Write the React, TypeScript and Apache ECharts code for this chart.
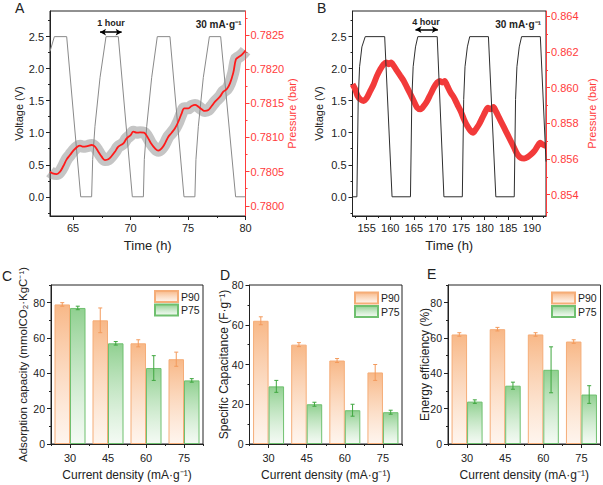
import React, { useEffect, useRef } from 'react';
import * as echarts from 'echarts';

const FONT = '"Liberation Sans", Arial, Helvetica, sans-serif';
const RED = '#ff3b3b';
const INK = '#222';

// ---------- Panel A (30 mA/g, 63–80 h) ----------
const aVoltTime = [63.0, 63.38, 64.45, 65.67, 66.62, 66.71, 66.91, 67.35, 67.87, 68.94, 70.16, 71.12, 71.2, 71.41, 71.84, 72.33, 73.43, 74.65, 75.6, 75.69, 75.9, 76.33, 76.86, 77.84, 79.14, 80.0];
const aVoltV = [2.27, 2.5, 2.5, 0, 0, 0.58, 1.1, 1.86, 2.5, 2.5, 0, 0, 0.58, 1.1, 1.86, 2.5, 2.5, 0, 0, 0.58, 1.1, 1.86, 2.5, 2.5, 0, 0];
const aPresTime = [63.0, 63.23, 63.58, 63.87, 64.16, 64.45, 64.74, 65.03, 65.38, 65.61, 65.9, 66.25, 66.62, 66.91, 67.2, 67.49, 67.78, 68.07, 68.36, 68.65, 68.94, 69.38, 69.67, 70.01, 70.25, 70.54, 70.83, 71.17, 71.46, 71.75, 72.13, 72.42, 72.71, 73.0, 73.29, 73.58, 73.87, 74.16, 74.45, 74.68, 75.03, 75.32, 75.61, 75.9, 76.19, 76.48, 76.77, 77.06, 77.35, 77.78, 78.07, 78.36, 78.65, 78.94, 79.17, 79.38, 79.67, 80.0];
const aPresP = [0.780498, 0.780474, 0.780464, 0.780498, 0.780581, 0.780679, 0.780742, 0.780806, 0.780864, 0.780879, 0.780864, 0.780874, 0.780889, 0.780864, 0.780791, 0.780718, 0.780669, 0.780679, 0.780728, 0.780791, 0.780864, 0.780913, 0.780986, 0.781035, 0.781084, 0.781069, 0.781074, 0.781069, 0.781011, 0.780923, 0.78084, 0.780806, 0.78084, 0.780913, 0.781011, 0.781069, 0.781133, 0.78123, 0.781353, 0.781426, 0.781426, 0.78146, 0.781475, 0.78145, 0.781411, 0.781387, 0.781401, 0.78146, 0.781523, 0.781597, 0.78167, 0.781704, 0.781792, 0.781948, 0.782143, 0.782173, 0.782207, 0.782271];
const aTimeTicks = [65, 70, 75, 80];
const aTimeMinor = [67.5, 72.5, 77.5];
const aPresTicks = [0.78, 0.7805, 0.781, 0.7815, 0.782, 0.7825];
const aPresMinor = [0.78025, 0.78075, 0.78125, 0.78175, 0.78225, 0.78275];
const aArrowTime = [67.35, 69.23];
const aArrowV = 2.57;

// ---------- Panel B (30 mA/g, 152–193 h) ----------
const bVoltTime = [152.0, 152.93, 153.21, 153.5, 153.99, 154.7, 158.82, 160.38, 164.28, 164.57, 164.85, 165.35, 165.84, 169.95, 171.37, 175.27, 175.56, 175.84, 176.34, 176.84, 180.8, 182.37, 186.27, 186.55, 186.84, 187.33, 187.83, 191.8, 193.0];
const bVoltV = [0, 0, 1.52, 2.03, 2.34, 2.5, 2.5, 0, 0, 1.52, 2.03, 2.34, 2.5, 2.5, 0, 0, 1.52, 2.03, 2.34, 2.5, 2.5, 0, 0, 1.52, 2.03, 2.34, 2.5, 2.5, 0.55];
const bPresTime = [152.01, 152.57, 153.07, 153.64, 154.35, 155.06, 155.77, 156.48, 157.18, 157.89, 158.6, 159.17, 159.67, 160.16, 160.73, 161.44, 162.15, 162.86, 163.57, 164.28, 164.99, 165.69, 166.4, 167.11, 167.82, 168.53, 169.24, 169.95, 170.52, 171.01, 171.51, 172.08, 172.79, 173.5, 174.2, 174.91, 175.62, 176.33, 177.04, 177.53, 178.1, 178.81, 179.52, 180.22, 180.72, 181.29, 181.86, 182.35, 183.06, 183.77, 184.48, 185.19, 186.25, 186.96, 187.67, 188.38, 189.09, 189.8, 190.51, 191.22, 191.78, 192.28, 192.99];
const bPresP = [0.860191, 0.85991, 0.859535, 0.859347, 0.859253, 0.859441, 0.859816, 0.860191, 0.86066, 0.861036, 0.861317, 0.861411, 0.861317, 0.861411, 0.861223, 0.860942, 0.86066, 0.860379, 0.860004, 0.859629, 0.859253, 0.858878, 0.858784, 0.858972, 0.859253, 0.859629, 0.860004, 0.860285, 0.860379, 0.860285, 0.860379, 0.860098, 0.859722, 0.859441, 0.859066, 0.85869, 0.858221, 0.857846, 0.857565, 0.857471, 0.857659, 0.85794, 0.858315, 0.85869, 0.858878, 0.858784, 0.858916, 0.85869, 0.858315, 0.85794, 0.857565, 0.857189, 0.856627, 0.856251, 0.856064, 0.856026, 0.856101, 0.856251, 0.856439, 0.85672, 0.856908, 0.856814, 0.85672];
const bTimeTicks = [155, 160, 165, 170, 175, 180, 185, 190];
const bTimeMinor = [152.5, 157.5, 162.5, 167.5, 172.5, 177.5, 182.5, 187.5, 192.5];
const bPresTicks = [0.854, 0.856, 0.858, 0.86, 0.862, 0.864];
const bPresMinor = [0.853, 0.855, 0.857, 0.859, 0.861, 0.863];
const bArrowTime = [165.34, 170.09];
const bArrowV = 2.61;

const voltTicks = [0, 0.5, 1, 1.5, 2, 2.5];
const voltMinor = [-0.25, 0.25, 0.75, 1.25, 1.75, 2.25, 2.75];

// ---------- Panels C, D, E ----------
const densities = ['30', '45', '60', '75'];
const adsP90 = [79, 70, 57, 48];
const adsP90Err = [1, 7, 2, 4];
const adsP75 = [77, 57, 43, 36];
const adsP75Err = [1, 1, 7, 1];
const capP90 = [62, 50, 42, 36];
const capP90Err = [2, 1, 1, 4];
const capP75 = [29, 20, 17, 16];
const capP75Err = [3, 1, 3, 1];
const effP90 = [62, 65, 62, 58];
const effP90Err = [1, 1, 1, 1];
const effP75 = [24, 33, 42, 28];
const effP75Err = [1, 2, 13, 5];
const barTicks = [0, 20, 40, 60, 80];
const barMinor90 = [10, 30, 50, 70, 90];
const barMinor80 = [10, 30, 50, 70];

const zip = (xs: number[], ys: number[]) => xs.map((x, i) => [x, ys[i]]);

const BAR_W = 15.5;

function valAxis(o: any) {
  const color = o.color || INK;
  return {
    type: 'value',
    gridIndex: o.grid,
    min: o.min,
    max: o.max,
    position: o.position,
    axisLine: { show: true, onZero: false, lineStyle: { color, width: 1 } },
    axisTick: { show: true, inside: false, length: 4, customValues: o.ticks, lineStyle: { color, width: 1 } },
    axisLabel: {
      show: true,
      customValues: o.ticks,
      formatter: o.fmt,
      color,
      fontSize: o.labelSize || 11,
      fontFamily: FONT,
      margin: o.margin ?? 6,
    },
    splitLine: { show: false },
    name: o.name,
    nameLocation: 'middle',
    nameGap: o.nameGap,
    nameMoveOverlap: false,
    nameTextStyle: { color, fontSize: o.nameSize || 11, fontFamily: FONT },
  };
}

function minorAxis(grid: number, min: number, max: number, position: string, values: number[], color = INK) {
  return {
    type: 'value',
    gridIndex: grid,
    min,
    max,
    position,
    axisLine: { show: false, onZero: false },
    axisLabel: { show: false },
    splitLine: { show: false },
    axisTick: { show: true, inside: false, length: 2, customValues: values, lineStyle: { color, width: 1 } },
  };
}

function catAxis(grid: number) {
  return {
    type: 'category',
    gridIndex: grid,
    data: densities,
    position: 'bottom',
    axisLine: { show: true, onZero: false, lineStyle: { color: INK, width: 1 } },
    axisTick: { show: true, alignWithLabel: true, length: 4, lineStyle: { color: INK } },
    axisLabel: { color: INK, fontSize: 11, fontFamily: FONT, margin: 8 },
    splitLine: { show: false },
  };
}

function catMinor(grid: number) {
  return {
    type: 'category',
    gridIndex: grid,
    data: densities,
    position: 'bottom',
    axisLine: { show: false, onZero: false },
    axisLabel: { show: false },
    splitLine: { show: false },
    axisTick: { show: true, alignWithLabel: false, length: 2, lineStyle: { color: INK } },
  };
}

const orangeFill = () =>
  new echarts.graphic.LinearGradient(0, 0, 0, 1, [
    { offset: 0, color: 'rgba(247,176,122,0.9)' },
    { offset: 1, color: 'rgba(254,238,226,0.6)' },
  ]);
const greenFill = () =>
  new echarts.graphic.LinearGradient(0, 0, 0, 1, [
    { offset: 0, color: 'rgba(132,203,132,0.9)' },
    { offset: 1, color: 'rgba(236,247,236,0.6)' },
  ]);

function bars(name: string, data: number[], xi: number, yi: number) {
  const isP90 = name === 'P90';
  return {
    type: 'bar',
    name,
    xAxisIndex: xi,
    yAxisIndex: yi,
    data,
    barWidth: BAR_W,
    barGap: '0%',
    itemStyle: {
      color: isP90 ? orangeFill() : greenFill(),
      borderColor: isP90 ? '#f5ad78' : '#6fc06f',
      borderWidth: 1,
    },
    emphasis: { disabled: true },
    silent: true,
    z: 2,
  };
}

function errBars(id: string, vals: number[], errs: number[], xi: number, yi: number, side: number, color: string) {
  return {
    type: 'custom',
    name: id,
    xAxisIndex: xi,
    yAxisIndex: yi,
    data: vals.map((v, i) => [i, v - errs[i], v + errs[i]]),
    encode: { x: 0, y: [1, 2] },
    silent: true,
    z: 5,
    renderItem: (_p: any, api: any) => {
      const i = api.value(0);
      const lo = api.coord([i, api.value(1)]);
      const hi = api.coord([i, api.value(2)]);
      const x = lo[0] + side * (BAR_W / 2);
      const st = { stroke: color, lineWidth: 1 };
      return {
        type: 'group',
        children: [
          { type: 'line', shape: { x1: x, y1: lo[1], x2: x, y2: hi[1] }, style: st },
          { type: 'line', shape: { x1: x - 2, y1: lo[1], x2: x + 2, y2: lo[1] }, style: st },
          { type: 'line', shape: { x1: x - 2, y1: hi[1], x2: x + 2, y2: hi[1] }, style: st },
        ],
      };
    },
  };
}

function arrowLine(ts: number[], v: number) {
  return {
    silent: true,
    symbol: ['arrow', 'arrow'],
    symbolSize: [5, 6],
    label: { show: false },
    emphasis: { disabled: true },
    lineStyle: { color: '#000', width: 1.5, type: 'solid' },
    data: [[{ coord: [ts[0], v] }, { coord: [ts[1], v] }]],
  };
}

function legendAt(left: number, top: number) {
  return {
    data: ['P90', 'P75'],
    left,
    top,
    orient: 'vertical',
    icon: 'rect',
    itemWidth: 23,
    itemHeight: 11,
    itemGap: 0.5,
    padding: 0,
    selectedMode: false,
    textStyle: { color: INK, fontSize: 10.5, fontFamily: FONT, lineHeight: 11.5, padding: [0, 0, 0, -2] },
  };
}

function txt(text: string, x: number, y: number, o: any = {}) {
  return {
    type: 'text',
    x,
    y,
    rotation: o.rotation || 0,
    silent: true,
    style: {
      text,
      fill: o.fill || INK,
      fontSize: o.size || 13,
      fontWeight: o.weight || 'normal',
      fontFamily: FONT,
      align: o.align || 'left',
      verticalAlign: o.va || 'middle',
    },
  };
}

const fmt1 = (v: number) => v.toFixed(1);
const UP = Math.PI / 2;

const option: any = {
  animation: false,
  backgroundColor: '#fff',
  textStyle: { fontFamily: FONT },
  grid: [
    { left: 50, top: 11, width: 195.5, height: 205, show: true, borderColor: INK, borderWidth: 1, backgroundColor: 'transparent', outerBoundsMode: 'none' },
    { left: 352.5, top: 11, width: 193.5, height: 205, show: true, borderColor: INK, borderWidth: 1, backgroundColor: 'transparent', outerBoundsMode: 'none' },
    { left: 51, top: 285, width: 152, height: 159, show: true, borderColor: INK, borderWidth: 1, backgroundColor: 'transparent', outerBoundsMode: 'none' },
    { left: 249.5, top: 285, width: 152.5, height: 159, show: true, borderColor: INK, borderWidth: 1, backgroundColor: 'transparent', outerBoundsMode: 'none' },
    { left: 448, top: 285, width: 152.5, height: 159, show: true, borderColor: INK, borderWidth: 1, backgroundColor: 'transparent', outerBoundsMode: 'none' },
  ],
  xAxis: [
    // 0,1 : A
    valAxis({ grid: 0, min: 63, max: 80, position: 'bottom', ticks: aTimeTicks, fmt: (v: number) => String(v), margin: 6, name: 'Time (h)', nameGap: 23, nameSize: 13 }),
    minorAxis(0, 63, 80, 'bottom', aTimeMinor),
    // 2,3 : B
    valAxis({ grid: 1, min: 152, max: 193, position: 'bottom', ticks: bTimeTicks, fmt: (v: number) => String(v), margin: 6, name: 'Time (h)', nameGap: 23, nameSize: 13 }),
    minorAxis(1, 152, 193, 'bottom', bTimeMinor),
    // 4,5 : C
    catAxis(2),
    catMinor(2),
    // 6,7 : D
    catAxis(3),
    catMinor(3),
    // 8,9 : E
    catAxis(4),
    catMinor(4),
  ],
  yAxis: [
    // 0..3 : A
    valAxis({ grid: 0, min: -0.3, max: 2.9, position: 'left', ticks: voltTicks, fmt: fmt1, name: 'Voltage (V)', nameGap: 26, nameSize: 11 }),
    minorAxis(0, -0.3, 2.9, 'left', voltMinor),
    valAxis({ grid: 0, min: 0.77985, max: 0.78285, position: 'right', ticks: aPresTicks, fmt: (v: number) => v.toFixed(4), color: RED, margin: 5, name: 'Pressure (bar)', nameGap: 41, nameSize: 11 }),
    minorAxis(0, 0.77985, 0.78285, 'right', aPresMinor, RED),
    // 4..7 : B
    valAxis({ grid: 1, min: -0.3, max: 2.9, position: 'left', ticks: voltTicks, fmt: fmt1, name: 'Voltage (V)', nameGap: 28, nameSize: 11 }),
    minorAxis(1, -0.3, 2.9, 'left', voltMinor),
    valAxis({ grid: 1, min: 0.8528, max: 0.8643, position: 'right', ticks: bPresTicks, fmt: (v: number) => v.toFixed(3), color: RED, margin: 5, name: 'Pressure (bar)', nameGap: 40, nameSize: 11 }),
    minorAxis(1, 0.8528, 0.8643, 'right', bPresMinor, RED),
    // 8,9 : C
    valAxis({ grid: 2, min: 0, max: 90, position: 'left', ticks: barTicks, fmt: (v: number) => String(v), labelSize: 10.5, margin: 6 }),
    minorAxis(2, 0, 90, 'left', barMinor90),
    // 10,11 : D
    valAxis({ grid: 3, min: 0, max: 80, position: 'left', ticks: barTicks, fmt: (v: number) => String(v), labelSize: 10.5, margin: 6 }),
    minorAxis(3, 0, 80, 'left', barMinor80),
    // 12,13 : E
    valAxis({ grid: 4, min: 0, max: 90, position: 'left', ticks: barTicks, fmt: (v: number) => String(v), labelSize: 10.5, margin: 6 }),
    minorAxis(4, 0, 90, 'left', barMinor90),
  ],
  legend: [legendAt(154, 290), legendAt(354, 291.5), legendAt(551, 291.5)],
  series: [
    // ----- A -----
    {
      type: 'line', name: 'noiseA', xAxisIndex: 0, yAxisIndex: 2,
      data: zip(aPresTime, aPresP), showSymbol: false, smooth: 0.4, silent: true,
      lineStyle: { color: 'rgba(140,140,140,0.5)', width: 12 }, z: 1,
    },
    {
      type: 'line', name: 'voltA', xAxisIndex: 0, yAxisIndex: 0,
      data: zip(aVoltTime, aVoltV), showSymbol: false, silent: true,
      lineStyle: { color: '#8a8a8a', width: 1 }, z: 2,
      markLine: arrowLine(aArrowTime, aArrowV),
    },
    {
      type: 'line', name: 'presA', xAxisIndex: 0, yAxisIndex: 2,
      data: zip(aPresTime, aPresP), showSymbol: false, smooth: 0.4, silent: true,
      lineStyle: { color: '#ff1a1a', width: 1.8 }, z: 3,
    },
    // ----- B -----
    {
      type: 'line', name: 'presB', xAxisIndex: 2, yAxisIndex: 6,
      data: zip(bPresTime, bPresP), showSymbol: false, smooth: 0.3, silent: true,
      lineStyle: { color: '#f23a3a', width: 6 }, z: 2,
    },
    {
      type: 'line', name: 'voltB', xAxisIndex: 2, yAxisIndex: 4,
      data: zip(bVoltTime, bVoltV), showSymbol: false, silent: true,
      lineStyle: { color: '#2e2e2e', width: 1 }, z: 3,
      markLine: arrowLine(bArrowTime, bArrowV),
    },
    // ----- C -----
    bars('P90', adsP90, 4, 8),
    bars('P75', adsP75, 4, 8),
    errBars('errC90', adsP90, adsP90Err, 4, 8, -1, '#f39a5c'),
    errBars('errC75', adsP75, adsP75Err, 4, 8, 1, '#3fa63f'),
    // ----- D -----
    bars('P90', capP90, 6, 10),
    bars('P75', capP75, 6, 10),
    errBars('errD90', capP90, capP90Err, 6, 10, -1, '#f39a5c'),
    errBars('errD75', capP75, capP75Err, 6, 10, 1, '#3fa63f'),
    // ----- E -----
    bars('P90', effP90, 8, 12),
    bars('P75', effP75, 8, 12),
    errBars('errE90', effP90, effP90Err, 8, 12, -1, '#f39a5c'),
    errBars('errE75', effP75, effP75Err, 8, 12, 1, '#3fa63f'),
  ],
  graphic: [
    txt('A', 15, 8, { size: 14 }),
    txt('B', 317, 8, { size: 14 }),
    txt('C', 2, 275.5, { size: 14 }),
    txt('D', 220, 274.5, { size: 14 }),
    txt('E', 427, 273.5, { size: 14 }),
    txt('1 hour', 111, 22.5, { size: 9, weight: 'bold', align: 'center' }),
    txt('30 mA·g⁻¹', 241.5, 24, { size: 10, weight: 'bold', align: 'right' }),
    txt('4 hour', 426, 21.5, { size: 9, weight: 'bold', align: 'center' }),
    txt('30 mA·g⁻¹', 541, 24, { size: 10, weight: 'bold', align: 'right' }),
    // y titles of C, D, E
    txt('Adsorption capacity (mmolCO₂·KgC⁻¹)', 23, 364.5, { size: 11.5, align: 'center', rotation: UP }),
    txt('Specific Capacitance (F·g⁻¹)', 223.5, 364.5, { size: 12, align: 'center', rotation: UP }),
    txt('Energy efficiency (%)', 425, 364.5, { size: 12, align: 'center', rotation: UP }),
    // x titles of C, D, E
    txt('Current density (mA·g⁻¹)', 127, 475, { size: 12, align: 'center' }),
    txt('Current density (mA·g⁻¹)', 325.75, 475, { size: 12, align: 'center' }),
    txt('Current density (mA·g⁻¹)', 524.25, 475, { size: 12, align: 'center' }),
  ],
};

export default function App() {
  const ref = useRef<HTMLDivElement>(null);
  useEffect(() => {
    const chart = echarts.init(ref.current as HTMLDivElement, null, { renderer: 'svg', width: 603, height: 485 });
    chart.setOption(option);
    return () => chart.dispose();
  }, []);
  return (
    <div
      ref={ref}
      style={{ position: 'fixed', left: 0, top: 0, width: 603, height: 485, background: '#fff' }}
    />
  );
}
